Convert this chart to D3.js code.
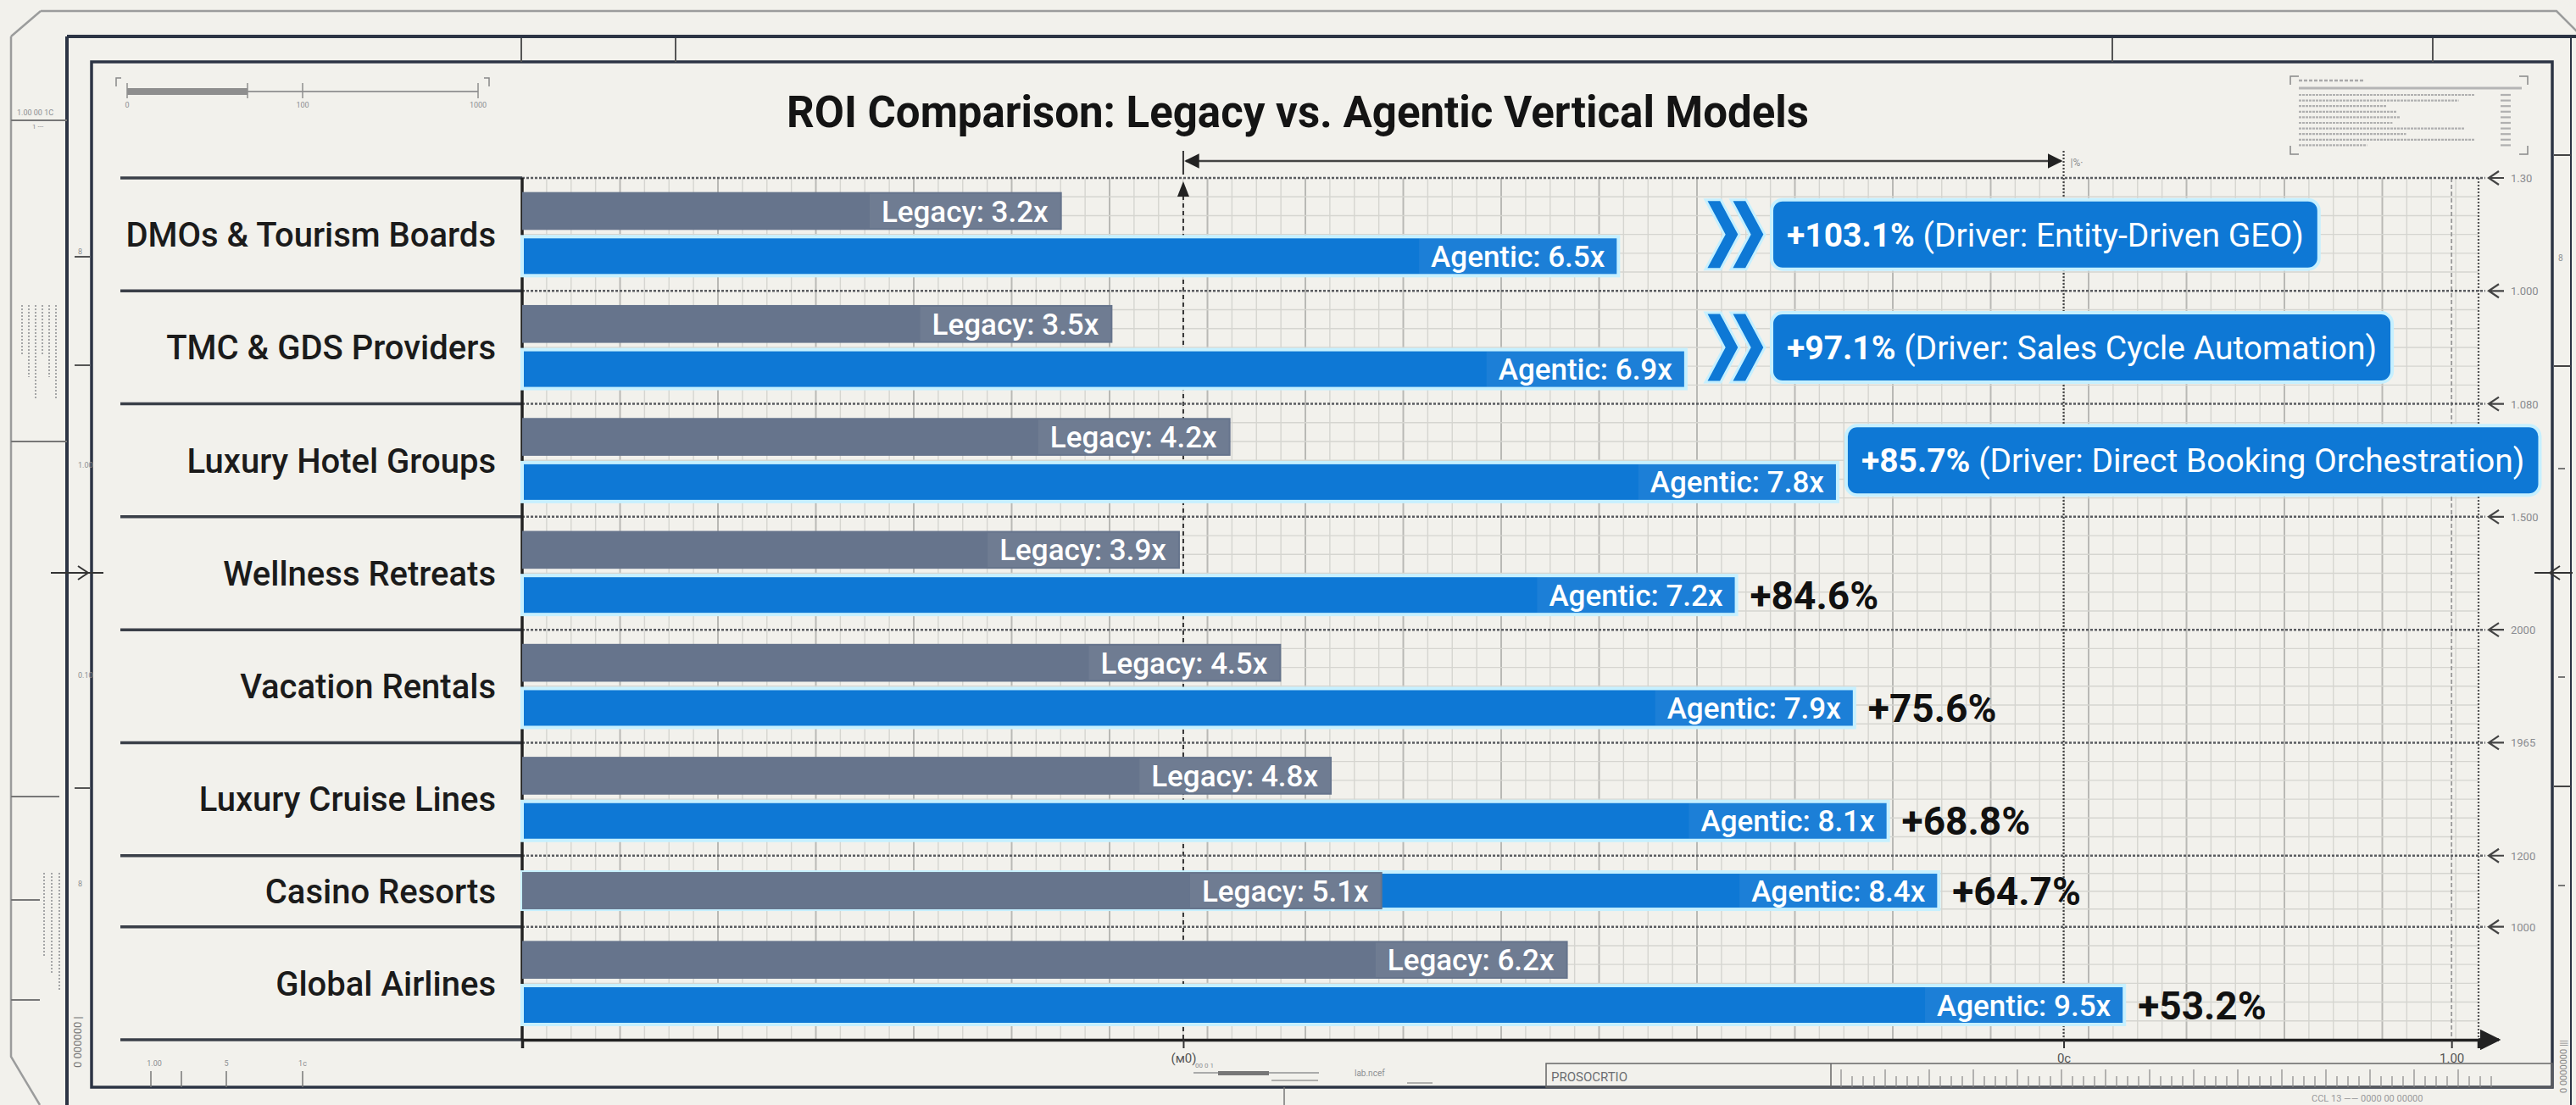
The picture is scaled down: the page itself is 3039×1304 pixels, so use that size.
<!DOCTYPE html>
<html>
<head>
<meta charset="utf-8">
<script src="https://cdn.jsdelivr.net/npm/d3@7"></script>
<style>
  body { margin: 0; background: #f2f1ec; }
  svg { display: block; font-family: Roboto, "Noto Sans", sans-serif; }
</style>
</head>
<body>
<div class="chart"></div>
<script>
// ---- data ----
const title = 'ROI Comparison: Legacy vs. Agentic Vertical Models';
const categories = ['DMOs & Tourism Boards', 'TMC & GDS Providers', 'Luxury Hotel Groups', 'Wellness Retreats',
                    'Vacation Rentals', 'Luxury Cruise Lines', 'Casino Resorts', 'Global Airlines'];
const legacy  = [3.2, 3.5, 4.2, 3.9, 4.5, 4.8, 5.1, 6.2];
const agentic = [6.5, 6.9, 7.8, 7.2, 7.9, 8.1, 8.4, 9.5];
const lift    = [103.1, 97.1, 85.7, 84.6, 75.6, 68.8, 64.7, 53.2];
const drivers = ['Entity-Driven GEO', 'Sales Cycle Automation', 'Direct Booking Orchestration', null, null, null, null, null];
// casino row draws both bars on one track
const overlaid = [false, false, false, false, false, false, true, false];
// blueprint reference marks on the x axis and their labels
const refMarks = [3.92, 9.14, 11.44];
const refMarkLabels = ['(м0)', '0c', '1.00'];
const sideLabels = ['1.30', '1.000', '1.080', '1.500', '2000', '1965', '1200', '1000'];

const W = 3039, H = 1304;
const blue = '#0e78d5', slate = '#66748c', glow = '#c6f0ff', ink = '#2c3444';

const svg = d3.select('.chart').append('svg')
  .attr('width', W).attr('height', H).attr('viewBox', `0 0 ${W} ${H}`);

svg.append('rect').attr('width', W).attr('height', H).attr('fill', '#f2f1ec');

const defs = svg.append('defs');
defs.append('marker').attr('id', 'arr').attr('viewBox', '0 0 10 10').attr('refX', 9).attr('refY', 5)
  .attr('markerWidth', 7).attr('markerHeight', 7).attr('orient', 'auto-start-reverse')
  .append('path').attr('d', 'M0,0L10,5L0,10z').attr('fill', '#222');

// ---- layout ----
const plotLeft = 616, plotRight = 2924, plotTop = 210, plotBottom = 1227;
const rowSpan = overlaid.map(o => o ? 0.63 : 1);
const rowStart = rowSpan.map((s, i) => d3.sum(rowSpan.slice(0, i)));

const x = d3.scaleLinear().domain([0, 11.6]).range([plotLeft, plotRight]);
const y = d3.scaleLinear().domain([0, d3.sum(rowSpan)]).range([plotTop, plotBottom]);

const rows = categories.map((c, i) => {
  const y0 = y(rowStart[i]), y1 = y(rowStart[i] + rowSpan[i]), h = y1 - y0;
  const r = { c, legacy: legacy[i], agentic: agentic[i], lift: lift[i], driver: drivers[i], y0, y1, h };
  if (overlaid[i]) {
    r.gy = r.by = y0 + 0.23 * h; r.gh = r.bh = 0.524 * h;
  } else {
    r.gy = y0 + 0.125 * h; r.gh = 0.335 * h;
    r.by = y0 + 0.52 * h;  r.bh = 0.345 * h;
  }
  return r;
});

function line(g, x1, y1, x2, y2, stroke, w, dash) {
  return g.append('line').attr('x1', x1).attr('y1', y1).attr('x2', x2).attr('y2', y2)
    .attr('stroke', stroke).attr('stroke-width', w).attr('stroke-dasharray', dash || null);
}
function tiny(g, tx, ty, s, size, anchor) {
  return g.append('text').attr('x', tx).attr('y', ty).text(s)
    .attr('font-size', size || 11).attr('fill', '#8d8f92').attr('text-anchor', anchor || 'start');
}

// ---- blueprint frame ----
const frame = svg.append('g').attr('class', 'frame');
frame.append('path')
  .attr('d', 'M48,13L3016,13L3045,42L3045,1304M13,43L48,13M13,43L13,1247L47,1304')
  .attr('fill', 'none').attr('stroke', '#9b9c9c').attr('stroke-width', 2.5);
line(frame, 79, 43, W, 43, ink, 4);
line(frame, 79, 43, 79, H, ink, 4);
line(frame, 3033, 43, 3033, H, ink, 2);
frame.append('rect').attr('x', 108).attr('y', 73).attr('width', 2903).attr('height', 1210)
  .attr('fill', 'none').attr('stroke', ink).attr('stroke-width', 3.5);
[615, 797, 2492, 2870].forEach(px => line(frame, px, 45, px, 73, '#555', 2));

// left margin furniture
line(frame, 13, 142, 79, 142, '#777', 2);
tiny(frame, 20, 136, '1.00 00 1C', 9);
tiny(frame, 38, 152, '1 ---', 8);
d3.range(6).forEach(k => line(frame, 26 + k * 8, 360, 26 + k * 8, 420 + (k % 3) * 25, '#a4a5a6', 2, '2,2'));
line(frame, 13, 521, 79, 521, '#777', 2);
line(frame, 13, 940, 70, 940, '#777', 2);
line(frame, 13, 1062, 47, 1062, '#777', 2);
line(frame, 13, 1180, 47, 1180, '#777', 2);
d3.range(3).forEach(k => line(frame, 52 + k * 9, 1030, 52 + k * 9, 1130 + k * 20, '#a4a5a6', 2, '2,2'));
[303, 431, 930].forEach(py => line(frame, 88, py, 106, py, '#555', 2));
[['8', 300], ['1.00', 552], ['0.10', 800], ['8', 1046]].forEach(d => tiny(frame, 92, d[1], d[0], 9));
line(frame, 60, 676, 122, 676, '#333', 2);
frame.append('path').attr('d', 'M92,668L104,676L92,684').attr('fill', 'none').attr('stroke', '#333').attr('stroke-width', 2);
frame.append('text').attr('transform', 'translate(96,1260) rotate(-90)').text('0 000000 |')
  .attr('font-size', 13).attr('fill', '#777');

// right margin furniture
[183, 432, 928].forEach(py => line(frame, 3013, py, 3033, py, '#444', 2));
[553, 799, 1045].forEach(py => line(frame, 3018, py, 3026, py, '#777', 2));
tiny(frame, 3018, 308, '8', 10);
line(frame, 2990, 676, 3035, 676, '#333', 2);
frame.append('path').attr('d', 'M3020,668L3008,676L3020,684').attr('fill', 'none').attr('stroke', '#333').attr('stroke-width', 2);
frame.append('text').attr('transform', 'translate(3028,1290) rotate(-90)').text('0 0000000 |||')
  .attr('font-size', 11).attr('fill', '#888');

// top-left scale bar
line(frame, 150, 108, 564, 108, '#9a9a9a', 2);
frame.append('rect').attr('x', 150).attr('y', 104).attr('width', 142).attr('height', 8).attr('fill', '#8e8e8e');
[150, 292, 357, 564].forEach(px => line(frame, px, 98, px, 116, '#8e8e8e', 1.5));
frame.append('path').attr('d', 'M137,102L137,92L143,92M577,102L577,92L571,92').attr('fill', 'none').attr('stroke', '#888').attr('stroke-width', 1.5);
[['0', 150], ['100', 357], ['1000', 564]].forEach(d => tiny(frame, d[1], 127, d[0], 9, 'middle'));

// top-right notes block
frame.append('path').attr('d', 'M2702,100L2702,90L2712,90M2982,100L2982,90L2972,90M2702,172L2702,182L2712,182M2982,172L2982,182L2972,182')
  .attr('fill', 'none').attr('stroke', '#888').attr('stroke-width', 1.5);
line(frame, 2712, 95, 2790, 95, '#aaa', 2.5, '4,2');
line(frame, 2712, 104, 2975, 104, '#b5b5b5', 3);
[0.9, 0.82, 0.45, 0.5, 0.52, 0.48, 0.85, 0.55, 0.9, 0.35].forEach((f, k) => {
  line(frame, 2712, 112 + k * 6.6, 2712 + f * 230, 112 + k * 6.6, '#b0b0b0', 2.2, '3,1');
  line(frame, 2950, 112 + k * 6.6, 2962, 112 + k * 6.6, '#b0b0b0', 2.2);
});

// bottom furniture
[178, 214, 267, 357].forEach(px => line(frame, px, 1264, px, 1283, '#777', 1.5));
[['1.00', 182], ['5', 267], ['1c', 357]].forEach(d => tiny(frame, d[1], 1258, d[0], 9, 'middle'));
line(frame, 1408, 1266, 1556, 1266, '#aaa', 2);
frame.append('rect').attr('x', 1437).attr('y', 1264).attr('width', 60).attr('height', 5).attr('fill', '#777');
tiny(frame, 1410, 1260, '00 0 1', 8);
line(frame, 1515, 1283, 1515, H, '#777', 1.5);
line(frame, 1500, 1275, 1555, 1275, '#999', 1.5);
tiny(frame, 1598, 1270, 'lab.ncef', 10);
line(frame, 1660, 1278, 1690, 1278, '#999', 1.5);
frame.append('rect').attr('x', 1824).attr('y', 1255).attr('width', 1187).attr('height', 28)
  .attr('fill', 'none').attr('stroke', '#666').attr('stroke-width', 1.5);
line(frame, 2160, 1255, 2160, 1283, '#666', 1.5);
tiny(frame, 1830, 1276, 'PROSOCRTIO', 15).attr('fill', '#6d6f73');
d3.range(2172, 2950, 13).forEach((px, k) => line(frame, px, 1283, px, k % 4 === 0 ? 1262 : 1270, '#888', 1.2));
tiny(frame, 2727, 1300, 'CCL 13 —— 0000 00 00000', 11).attr('fill', '#99999b');

// ---- grid ----
const grid = svg.append('g').attr('class', 'grid');
const minorStep = 115.5 / 4;
grid.selectAll('line.v').data(d3.range(0, Math.floor((plotRight - plotLeft) / minorStep) + 1)).join('line')
  .attr('class', 'v')
  .attr('x1', i => plotLeft + i * minorStep).attr('x2', i => plotLeft + i * minorStep)
  .attr('y1', plotTop).attr('y2', plotBottom)
  .attr('stroke', i => i % 4 === 0 ? '#b9b9b5' : '#d5d5d0')
  .attr('stroke-width', i => i % 4 === 0 ? 2 : 1.4);
const hLines = rows.flatMap(r => {
  const n = r.h > 100 ? 6 : 4;
  return d3.range(1, n).map(k => r.y0 + k * r.h / n);
});
grid.selectAll('line.h').data(hLines).join('line').attr('class', 'h')
  .attr('x1', plotLeft).attr('x2', plotRight).attr('y1', d => d).attr('y2', d => d)
  .attr('stroke', '#d5d5d0').attr('stroke-width', 1.4);

// reference verticals
line(grid, x(refMarks[0]), 222, x(refMarks[0]), plotBottom, '#333', 2, '5,4');
grid.append('path').attr('d', `M${x(refMarks[0]) - 7},232L${x(refMarks[0])},214L${x(refMarks[0]) + 7},232z`).attr('fill', '#222');
line(grid, x(refMarks[1]), 178, x(refMarks[1]), plotBottom, '#444', 2.2, '2,2');
line(grid, x(refMarks[2]), plotTop, x(refMarks[2]), plotBottom, '#999', 1.8, '5,3');
line(grid, plotRight, plotTop, plotRight, plotBottom, '#555', 2.2, '2,2');
// dimension arrow above the plot
line(grid, x(refMarks[0]), 178, x(refMarks[0]), 206, '#333', 2);
line(grid, x(refMarks[0]) + 3, 190, x(refMarks[1]) - 3, 190, '#444', 2.5)
  .attr('marker-start', 'url(#arr)').attr('marker-end', 'url(#arr)');
tiny(grid, x(refMarks[1]) + 8, 196, '|%·', 12);

// row separators
const bounds = rows.map(r => r.y0).concat([plotBottom]);
const seps = svg.append('g').attr('class', 'seps');
seps.selectAll('line.lab').data(bounds).join('line').attr('class', 'lab')
  .attr('x1', 142).attr('x2', plotLeft).attr('y1', d => d).attr('y2', d => d)
  .attr('stroke', '#3a3f48').attr('stroke-width', 3.5);
seps.selectAll('line.plot').data(bounds.slice(0, -1)).join('line').attr('class', 'plot')
  .attr('x1', plotLeft).attr('x2', plotRight + 8).attr('y1', d => d).attr('y2', d => d)
  .attr('stroke', '#5a5c60').attr('stroke-width', 2.5).attr('stroke-dasharray', '3,2');
// right side markers with labels
const side = seps.selectAll('g.side').data(bounds.slice(0, -1)).join('g').attr('class', 'side')
  .attr('transform', d => `translate(${plotRight + 10},${d})`);
side.append('path').attr('d', 'M14,-8L2,0L14,8M2,0L20,0').attr('fill', 'none').attr('stroke', '#444').attr('stroke-width', 2.2);
side.append('text').attr('x', 28).attr('y', 5).text((d, i) => sideLabels[i])
  .attr('font-size', 13).attr('fill', '#8a8c90');

// ---- axes ----
svg.append('line').attr('x1', plotLeft).attr('x2', plotLeft).attr('y1', plotTop).attr('y2', plotBottom)
  .attr('stroke', '#222').attr('stroke-width', 3.5);
const xAxis = d3.axisBottom(x).tickValues(refMarks).tickFormat((d, i) => refMarkLabels[i]).tickSize(10).tickPadding(6);
const axisG = svg.append('g').attr('transform', `translate(0,${plotBottom})`).call(xAxis);
axisG.select('.domain').attr('stroke', '#222').attr('stroke-width', 3.5);
axisG.selectAll('.tick line').attr('stroke', '#333').attr('stroke-width', 2);
axisG.selectAll('.tick text').attr('font-size', 15).attr('fill', '#555').attr('font-family', 'Roboto, sans-serif');
line(svg, plotRight, plotBottom, plotRight + 24, plotBottom, '#222', 3.5).attr('marker-end', 'url(#arr)');

// ---- title ----
svg.append('text').attr('x', 1531).attr('y', 150).attr('text-anchor', 'middle')
  .attr('font-size', 51).attr('font-weight', 700).attr('fill', '#141414').text(title);

// ---- category labels ----
svg.append('g').selectAll('text').data(rows).join('text')
  .attr('x', 585).attr('y', d => (d.y0 + d.y1) / 2).attr('dy', '0.36em')
  .attr('text-anchor', 'end').attr('font-size', 40).attr('font-weight', 500).attr('fill', '#1b1b1b')
  .text(d => d.c);

// ---- bars ----
const bars = svg.append('g').attr('class', 'bars');
bars.selectAll('rect.agentic').data(rows).join('rect').attr('class', 'agentic')
  .attr('x', x(0)).attr('y', d => d.by).attr('width', d => x(d.agentic) - x(0)).attr('height', d => d.bh)
  .attr('fill', blue).attr('stroke', glow).attr('stroke-width', 4);
bars.selectAll('rect.legacy').data(rows).join('rect').attr('class', 'legacy')
  .attr('x', x(0)).attr('y', d => d.gy).attr('width', d => x(d.legacy) - x(0)).attr('height', d => d.gh)
  .attr('fill', slate);

// in-bar value labels
function valueLabel(g, text, xEnd, yTop, h) {
  const t = g.append('text').attr('x', xEnd - 16).attr('y', yTop + h / 2).attr('dy', '0.36em')
    .attr('text-anchor', 'end').attr('font-size', 35).attr('font-weight', 500).attr('fill', '#fff').text(text);
  const w = t.node().getComputedTextLength();
  g.insert('rect', 'text').attr('x', xEnd - w - 30).attr('y', yTop + 2).attr('width', w + 28).attr('height', h - 4)
    .attr('fill', '#fff').attr('fill-opacity', 0.06);
}
const fmt = d3.format('.1f');
rows.forEach(r => {
  const g = bars.append('g');
  valueLabel(g, `Legacy: ${fmt(r.legacy)}x`, x(r.legacy), r.gy, r.gh);
  valueLabel(g, `Agentic: ${fmt(r.agentic)}x`, x(r.agentic), r.by, r.bh);
});

// ---- lift annotations ----
const calloutLeft = 2090;
const notes = svg.append('g').attr('class', 'notes');
rows.forEach(r => {
  const yc = (r.y0 + r.y1) / 2;
  const liftText = `+${fmt(r.lift)}%`;
  if (r.driver) {
    const bx = Math.max(calloutLeft, x(r.agentic) + 10);
    const g = notes.append('g');
    const cx = bx - 78;
    if (x(r.agentic) + 16 < cx) {
      [0, 30].forEach(off => {
        const x0 = cx + off;
        g.append('path')
          .attr('d', `M${x0},${yc - 41}L${x0 + 18},${yc - 41}L${x0 + 40},${yc}L${x0 + 18},${yc + 41}L${x0},${yc + 41}L${x0 + 22},${yc}z`)
          .attr('fill', blue).attr('stroke', glow).attr('stroke-width', 3);
      });
    }
    const t = g.append('text').attr('x', bx + 18).attr('y', yc).attr('dy', '0.36em')
      .attr('font-size', 39).attr('fill', '#fff');
    t.append('tspan').attr('font-weight', 700).text(liftText);
    t.append('tspan').attr('font-weight', 400).text(` (Driver: ${r.driver})`);
    const tw = t.node().getComputedTextLength();
    g.insert('rect', 'text').attr('x', bx).attr('y', yc - 41).attr('width', tw + 36).attr('height', 82)
      .attr('rx', 13).attr('fill', blue).attr('stroke', glow).attr('stroke-width', 4);
  } else {
    notes.append('text').attr('x', x(r.agentic) + 16).attr('y', r.by + r.bh / 2).attr('dy', '0.36em')
      .attr('font-size', 46).attr('font-weight', 700).attr('fill', '#111').text(liftText);
  }
});
</script>
</body>
</html>
